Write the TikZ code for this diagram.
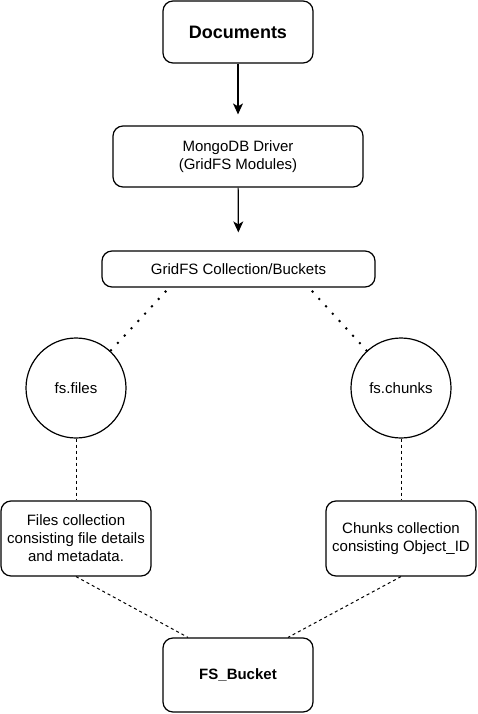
\documentclass[tikz,border=0pt]{standalone}
\usepackage{fontspec}
\setmainfont{Liberation Sans}
\usetikzlibrary{arrows.meta}

\tikzset{
  box/.style={draw,rounded corners=10pt,line width=1.2pt,align=center,inner sep=0pt,font=\fontsize{15}{18}\selectfont},
  ring/.style={draw,circle,minimum size=100pt,inner sep=0pt,line width=1.2pt,font=\fontsize{15}{18}\selectfont},
  arr/.style={line width=1.2pt,-{Stealth[length=11pt,width=10pt,inset=3pt]}},
  dots/.style={line width=2.8pt,line cap=round,dash pattern=on 0pt off 10pt},
  dash3/.style={line width=1pt,dash pattern=on 3pt off 3pt}
}

\begin{document}
\begin{tikzpicture}[x=1pt,y=-1pt]
    \useasboundingbox (0,0) rectangle (477,714);
    \node[box,minimum width=150pt,minimum height=62pt,font=\bfseries\fontsize{18}{21}\selectfont] (docs) at (238,32) {Documents};
    \node[box,minimum width=250pt,minimum height=61pt] (drv) at (238,156.5) {MongoDB Driver\\(GridFS Modules)};
    \node[box,minimum width=273pt,minimum height=36pt] (grid) at (238.5,269) {GridFS Collection/Buckets};
    \node[ring] (files) at (76,388) {fs.files};
    \node[ring] (chunks) at (401,388) {fs.chunks};
    \node[box,minimum width=150pt,minimum height=75pt] (filecol) at (76,538.5) {Files collection\\consisting file details\\and metadata.};
    \node[box,minimum width=150pt,minimum height=75pt] (chunkcol) at (401,538.5) {Chunks collection\\consisting Object\_ID};
    \node[box,minimum width=150pt,minimum height=74pt,font=\bfseries\fontsize{15}{18}\selectfont] (bucket) at (238,675) {FS\_Bucket};
    \draw[arr,shorten >=11pt] (docs) -- (drv);
    \draw[arr,shorten >=18pt] (drv) -- (grid);
    \draw[dots] ([xshift=-73pt,yshift=-4pt]grid.south) -- (files);
    \draw[dots] ([xshift=74pt,yshift=-4pt]grid.south) -- (chunks);
    \draw[dash3] (files) -- (filecol);
    \draw[dash3] (chunks) -- (chunkcol);
    \draw[dash3] (filecol.south) -- ([xshift=-50pt]bucket.north);
    \draw[dash3] (chunkcol.south) -- ([xshift=50pt]bucket.north);
\end{tikzpicture}
\end{document}
